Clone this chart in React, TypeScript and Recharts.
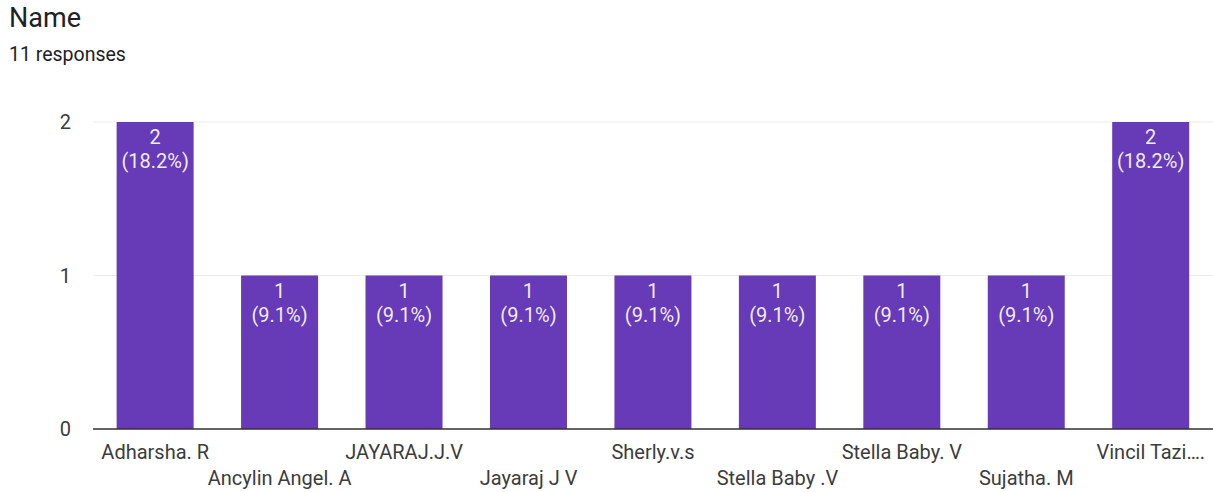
import { BarChart, Bar, XAxis, YAxis, CartesianGrid, LabelList, ReferenceLine } from "recharts";

const names = [
  "Adharsha. R",
  "Ancylin Angel. A",
  "JAYARAJ.J.V",
  "Jayaraj J V",
  "Sherly.v.s",
  "Stella Baby .V",
  "Stella Baby. V",
  "Sujatha. M",
  "Vincil Tazi….",
];
const counts = [2, 1, 1, 1, 1, 1, 1, 1, 2];
const percents = ["18.2%", "9.1%", "9.1%", "9.1%", "9.1%", "9.1%", "9.1%", "9.1%", "18.2%"];
const yTicks = [0, 1, 2];
const totalResponses = 11;

const data = names.map((name, i) => ({ name, count: counts[i], pct: percents[i] }));

const FONT = "Roboto, 'Noto Sans', Arial, sans-serif";

function NameTick(props: any) {
  const { x, y, payload, index } = props;
  const dy = index % 2 === 0 ? 30 : 56;
  return (
    <text x={x} y={y + dy} textAnchor="middle" fill="#3c3c3c" fontSize={20} fontFamily={FONT}>
      {payload.value}
    </text>
  );
}

function BarText(props: any) {
  const { x, y, width, index } = props;
  const cx = x + width / 2;
  return (
    <text textAnchor="middle" fill="#fff" fontSize={20} fontFamily={FONT} fillOpacity={0.92}>
      <tspan x={cx} y={y + 22}>{counts[index]}</tspan>
      <tspan x={cx} y={y + 46}>({percents[index]})</tspan>
    </text>
  );
}

export default function App() {
  return (
    <div style={{ position: "absolute", left: 0, top: 0, width: 1213, height: 492, background: "#fff", fontFamily: FONT }}>
      <div style={{ position: "absolute", left: 9, top: 2, fontSize: 27, color: "#202124" }}>Name</div>
      <div style={{ position: "absolute", left: 9, top: 43, fontSize: 19.5, color: "#202124" }}>
        {totalResponses} responses
      </div>
      <div style={{ position: "absolute", left: 0, top: 0 }}>
        <BarChart
          width={1213}
          height={492}
          data={data}
          margin={{ top: 122, right: 0, bottom: 0, left: 1 }}
          barCategoryGap="19%"
        >
          <CartesianGrid vertical={false} stroke="#ebebeb" />
          <XAxis
            dataKey="name"
            height={63}
            interval={0}
            tickLine={false}
            axisLine={false}
            tickSize={0}
            tickMargin={0}
            tick={<NameTick />}
          />
          <YAxis
            width={92}
            domain={[0, 2]}
            ticks={yTicks}
            tickLine={false}
            axisLine={false}
            tickSize={0}
            tickMargin={22}
            tick={{ fill: "#3c3c3c", fontSize: 20, fontFamily: FONT }}
          />
          <Bar dataKey="count" fill="#673ab7" isAnimationActive={false}>
            <LabelList dataKey="count" content={<BarText />} />
          </Bar>
          <ReferenceLine y={0} stroke="#333" strokeWidth={1.5} />
        </BarChart>
      </div>
    </div>
  );
}
